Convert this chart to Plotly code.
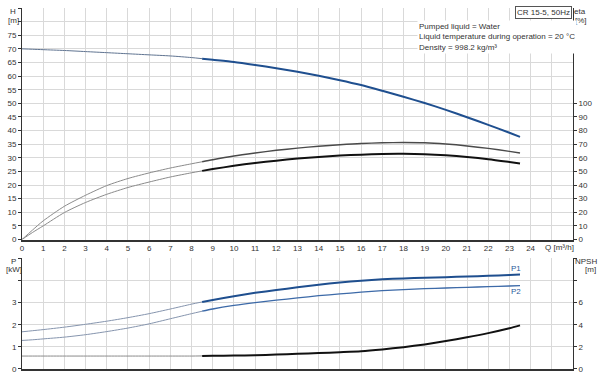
import plotly.graph_objects as go

# ---------------- data ----------------
q = [0, 0.5, 1, 2, 3, 4, 5, 6, 7, 8, 8.5, 9, 10, 11, 12, 13, 14, 15, 16, 17, 18, 19, 20, 21, 22, 23, 23.5]
head = [70, 69.85, 69.7, 69.4, 69.0, 68.6, 68.2, 67.8, 67.4, 66.8, 66.4, 66.0, 65.2, 64.1, 62.9, 61.6, 60.1,
        58.5, 56.7, 54.6, 52.4, 50.1, 47.6, 44.9, 42.1, 39.2, 37.7]
eta_pump = [0, 7, 13.7, 24.4, 32.5, 39.6, 44.8, 48.9, 52.5, 55.6, 57.1, 58.6, 61.3, 63.5, 65.5, 67.1, 68.5,
            69.6, 70.5, 71.0, 71.2, 71.0, 70.1, 68.7, 66.9, 64.7, 63.5]
eta_total = [0, 5.2, 10, 19.8, 27.2, 33.2, 38.2, 42.2, 45.9, 49.0, 50.4, 51.7, 54.1, 56.2, 57.9, 59.4, 60.6,
             61.6, 62.3, 62.8, 62.9, 62.6, 61.8, 60.6, 59.0, 56.9, 55.8]
p1 = [1.68, 1.73, 1.78, 1.89, 2.02, 2.16, 2.32, 2.50, 2.71, 2.93, 3.03, 3.12, 3.29, 3.44, 3.57, 3.69, 3.81,
      3.91, 3.99, 4.05, 4.09, 4.12, 4.15, 4.18, 4.21, 4.25, 4.27]
p2 = [1.29, 1.32, 1.36, 1.44, 1.55, 1.69, 1.85, 2.04, 2.27, 2.50, 2.61, 2.71, 2.87, 3.00, 3.11, 3.21, 3.31,
      3.39, 3.47, 3.54, 3.59, 3.63, 3.66, 3.69, 3.72, 3.75, 3.77]
npsh = [1.17, 1.17, 1.17, 1.17, 1.17, 1.17, 1.17, 1.17, 1.17, 1.17, 1.18, 1.19, 1.21, 1.25, 1.30, 1.37, 1.44,
        1.52, 1.61, 1.77, 1.97, 2.22, 2.52, 2.86, 3.24, 3.68, 3.94]
q_split = 8.5

x_ticks = list(range(0, 27))
x_ticktext = [str(i) for i in range(0, 25)] + ["", ""]
h_ticks = list(range(0, 90, 5))
h_ticktext = [str(v) if v <= 75 else "" for v in h_ticks]
eta_ticks = list(range(0, 110, 10))
p_ticks = [0, 1, 2, 3, 4, 5]
p_ticktext = ["0", "1", "2", "3", "", ""]
npsh_ticks = [0, 2, 4, 6, 8, 10]
npsh_ticktext = ["0", "2", "4", "6", "", ""]

# ---------------- figure ----------------
fig = go.Figure()


def add_curve(xs, ys, xa, ya, thin_color, thick_color, thick_width):
    xa_thin = [x for x in xs if x <= q_split]
    ya_thin = [y for x, y in zip(xs, ys) if x <= q_split]
    xa_thick = [x for x in xs if x >= q_split]
    ya_thick = [y for x, y in zip(xs, ys) if x >= q_split]
    fig.add_trace(go.Scatter(x=xa_thin, y=ya_thin, mode="lines", xaxis=xa, yaxis=ya,
                             line=dict(color=thin_color, width=1, shape="spline", smoothing=0.7),
                             showlegend=False, hoverinfo="skip"))
    fig.add_trace(go.Scatter(x=xa_thick, y=ya_thick, mode="lines", xaxis=xa, yaxis=ya,
                             line=dict(color=thick_color, width=thick_width, shape="spline", smoothing=0.7),
                             showlegend=False, hoverinfo="skip"))


add_curve(q, eta_pump, "x", "y2", "#8a8a8a", "#4a4a4a", 1.4)
add_curve(q, eta_total, "x", "y2", "#8a8a8a", "#111111", 2)
add_curve(q, head, "x", "y", "#5f7390", "#1f4f8f", 2)
add_curve(q, p1, "x2", "y3", "#8594ad", "#1f4f8f", 2)
add_curve(q, p2, "x2", "y3", "#8594ad", "#3d6aa8", 1.3)
add_curve(q, npsh, "x2", "y4", "#8a8a8a", "#111111", 2)

grid = "#d9d9d9"
axis_col = "#333333"
tf = dict(family="Liberation Sans, Arial, sans-serif", size=8, color="#333333")

fig.update_layout(
    width=600, height=377,
    margin=dict(l=22, r=27, t=8, b=8, autoexpand=False),
    paper_bgcolor="white", plot_bgcolor="white",
    font=tf,
    xaxis=dict(domain=[0, 1], anchor="y", range=[0, 26], tickvals=x_ticks, ticktext=x_ticktext,
               showgrid=True, gridcolor=grid, gridwidth=1, zeroline=False, automargin=False,
               showline=True, linecolor=axis_col, linewidth=1.5, ticks="", tickfont=tf),
    yaxis=dict(domain=[0.3587, 1], range=[0, 85], tickvals=h_ticks, ticktext=h_ticktext,
               showgrid=True, gridcolor=grid, gridwidth=1, zeroline=False, automargin=False,
               showline=True, linecolor=axis_col, linewidth=1, ticks="outside", ticklen=3,
               tickcolor=axis_col, tickfont=tf),
    yaxis2=dict(overlaying="y", side="right", anchor="x", range=[0, 170], tickvals=eta_ticks,
                showgrid=False, zeroline=False, showline=True, linecolor=axis_col, linewidth=1,
                automargin=False, ticks="outside", ticklen=3, tickcolor=axis_col, tickfont=tf),
    xaxis2=dict(domain=[0, 1], anchor="y3", range=[0, 26], tickvals=x_ticks, showticklabels=False,
                showgrid=True, gridcolor=grid, gridwidth=1, zeroline=False, automargin=False,
                showline=True, linecolor=axis_col, linewidth=1.5, ticks=""),
    yaxis3=dict(domain=[0, 0.3066], range=[0, 5], tickvals=p_ticks, ticktext=p_ticktext,
                showgrid=True, gridcolor=grid, gridwidth=1, zeroline=False, automargin=False,
                showline=True, linecolor=axis_col, linewidth=1, ticks="outside", ticklen=3,
                tickcolor=axis_col, tickfont=tf),
    yaxis4=dict(overlaying="y3", side="right", anchor="x2", range=[0, 10], tickvals=npsh_ticks,
                ticktext=npsh_ticktext, showgrid=False, zeroline=False, automargin=False,
                showline=True, linecolor=axis_col, linewidth=1,
                ticks="outside", ticklen=3, tickcolor=axis_col, tickfont=tf),
)

ann = []


def paper_label(text, px, py):
    ann.append(dict(text=text, x=(px - 22) / 551, y=(369 - py) / 361, xref="paper", yref="paper",
                    xanchor="center", yanchor="middle", showarrow=False, font=tf))


# axis titles (pixel positions from the reference)
paper_label("H", 13, 11)
paper_label("[m]", 13, 20)
paper_label("eta", 580, 11)
paper_label("[%]", 581, 20)
paper_label("P", 13, 261)
paper_label("[kW]", 13.5, 269)
paper_label("NPSH", 586, 261)
paper_label("[m]", 590, 269)
ann.append(dict(text="Q [m³/h]", x=24.57, y=0.336, xref="x", yref="paper", xanchor="left",
                yanchor="middle", showarrow=False, font=tf))
# curve labels
ann.append(dict(text="P1", x=23.3, y=4.52, xref="x2", yref="y3", xanchor="center", yanchor="middle",
                showarrow=False, font=dict(tf, color="#2a5a9a")))
ann.append(dict(text="P2", x=23.3, y=3.5, xref="x2", yref="y3", xanchor="center", yanchor="middle",
                showarrow=False, font=dict(tf, color="#2a5a9a")))
# info boxes
ann.append(dict(text="CR 15-5, 50Hz", x=24.6, y=83.2, xref="x", yref="y", xanchor="center", yanchor="middle",
                showarrow=False, bgcolor="white", bordercolor="#555555", borderwidth=1, borderpad=1, font=tf))
ann.append(dict(text="Pumped liquid = Water<br>Liquid temperature during operation = 20 °C<br>Density = 998.2 kg/m³",
                x=18.62, y=80.6, xref="x", yref="y", xanchor="left", yanchor="top", align="left",
                showarrow=False, bgcolor="white", borderpad=1, font=tf))
fig.update_layout(annotations=ann)

fig.write_html("out.html", config={"displayModeBar": False},
               post_script="document.body.style.margin='0';document.body.style.padding='0';"
                           "document.body.style.overflow='hidden';")
